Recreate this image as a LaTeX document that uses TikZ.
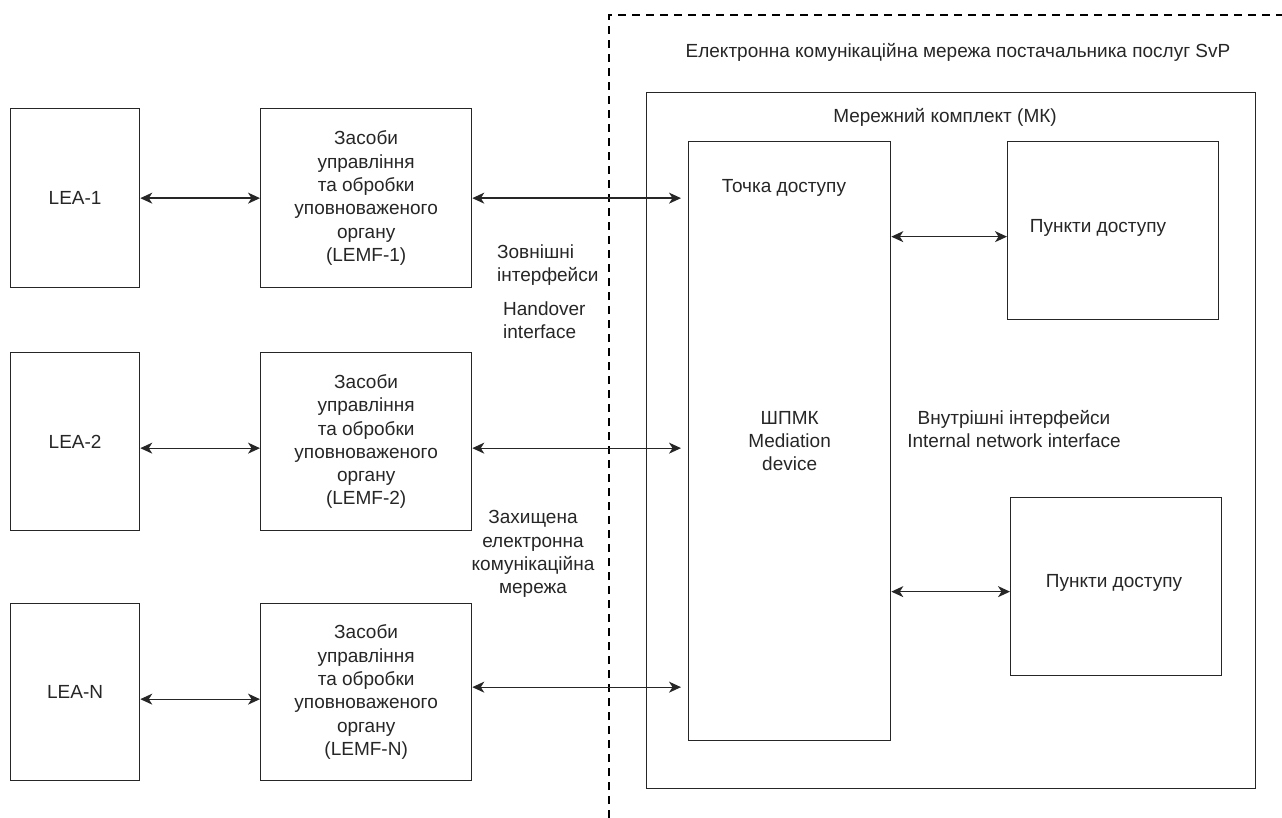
\documentclass[tikz,border=0pt]{standalone}
\usepackage{fontspec}
\setmainfont{Liberation Sans}
\usetikzlibrary{arrows.meta,calc}
\begin{document}
\begin{tikzpicture}[x=1pt,y=-1pt,
  every node/.style={font=\fontsize{19}{23.3}\selectfont, text=black!85, inner sep=0pt},
  box/.style={draw=black!85, line width=1.3pt, anchor=north west, align=center},
  lbl/.style={align=center},
  link/.style={line width=1.3pt, draw=black!85,
    {Stealth[length=12pt,width=11pt,inset=3.5pt]}-{Stealth[length=12pt,width=11pt,inset=3.5pt]}},
  border/.style={line width=2.6pt, dash pattern=on 8pt off 6pt}]
\useasboundingbox (0,0) rectangle (1282,818);

% dashed boundary
\draw[border] (609,818) -- (609,15) -- (1282,15);

% left column
\node[box, minimum width=129pt, minimum height=179pt] (lea1) at (10,108) {LEA-1};
\node[box, minimum width=129pt, minimum height=178pt] (lea2) at (10,352) {LEA-2};
\node[box, minimum width=129pt, minimum height=177pt] (lean) at (10,603) {LEA-N};

\node[box, minimum width=211pt, minimum height=179pt] (lemf1) at (260,108)
  {Засоби\\управління\\та обробки\\уповноваженого\\органу\\(LEMF-1)};
\node[box, minimum width=211pt, minimum height=178pt] (lemf2) at (260,352)
  {Засоби\\управління\\та обробки\\уповноваженого\\органу\\(LEMF-2)};
\node[box, minimum width=211pt, minimum height=177pt] (lemfn) at (260,603)
  {Засоби\\управління\\та обробки\\уповноваженого\\органу\\(LEMF-N)};

% right side
\node[box, minimum width=609pt, minimum height=696pt] (mk) at (646,92) {};
\node[box, minimum width=202pt, minimum height=599pt] (shpmk) at (688,141) {ШПМК\\Mediation\\device};
\node[box, minimum width=211pt, minimum height=178pt] (pd1) at (1007,141) {};
\node[box, minimum width=211pt, minimum height=178pt] (pd2) at (1010,497) {};

% labels
\node[lbl] (title) at (958,52) {Електронна комунікаційна мережа постачальника послуг SvP};
\node[lbl] (mkl) at (945,117) {Мережний комплект (МК)};
\node[lbl] (tochka) at (784,188) {Точка доступу};
\node[lbl] (pd1l) at (1098,228) {Пункти доступу};
\node[lbl] (pd2l) at (1114,583) {Пункти доступу};
\node[lbl] (intl) at (1014,429) {Внутрішні інтерфейси\\Internal network interface};
\node[align=left, anchor=west] (ext) at (497,265) {Зовнішні\\інтерфейси};
\node[align=left, anchor=west] (hand) at (503,320) {Handover\\interface};
\node[lbl] (prot) at (533,554) {Захищена\\електронна\\комунікаційна\\мережа};

% connectors
\draw[link] (lea1.east) -- (lemf1.west);
\coordinate (a2) at ([yshift=-6.5pt]lea2.east);
\draw[link] (a2) -- (a2 -| lemf2.west);
\coordinate (an) at ([yshift=-7pt]lean.east);
\draw[link] (an) -- (an -| lemfn.west);

\draw[link, shorten >=7pt] (lemf1.east) -- (lemf1.east -| shpmk.west);
\coordinate (b2) at ([yshift=-6.5pt]lemf2.east);
\draw[link, shorten >=7pt] (b2) -- (b2 -| shpmk.west);
\coordinate (bn) at ([yshift=5pt]lemfn.east);
\draw[link, shorten >=7pt] (bn) -- (bn -| shpmk.west);

\coordinate (c1) at ([yshift=-6pt]pd1.west);
\draw[link] (c1 -| shpmk.east) -- (c1);
\coordinate (c2) at ([yshift=-5pt]pd2.west);
\draw[link] (c2 -| shpmk.east) -- (c2);
\end{tikzpicture}
\end{document}
